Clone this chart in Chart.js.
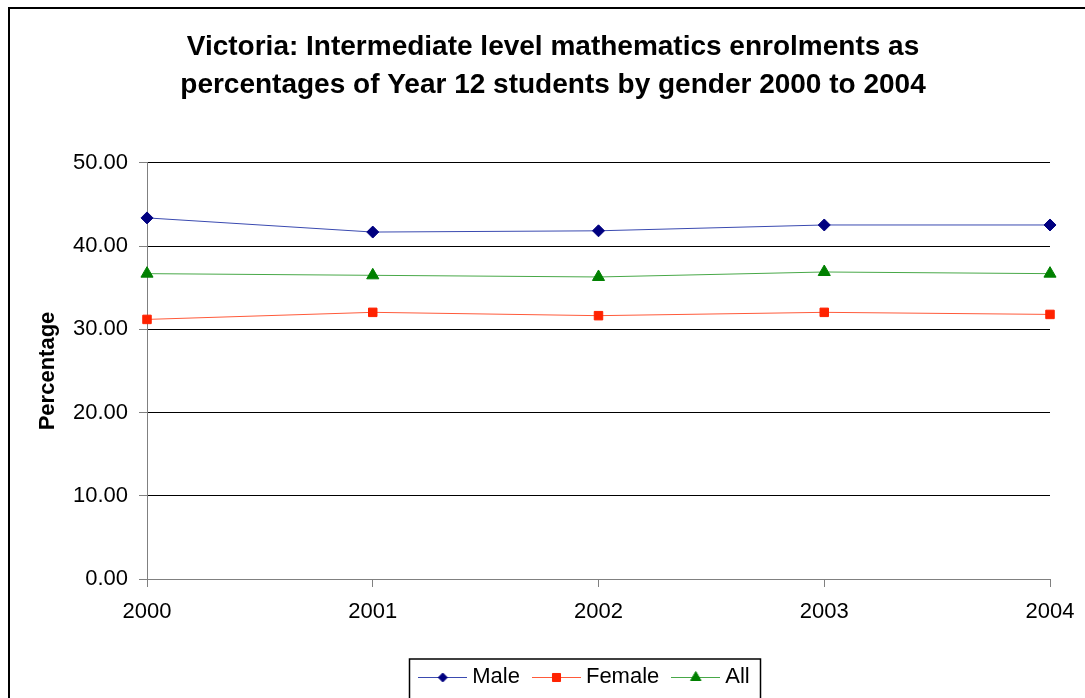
<!DOCTYPE html>
<html>
<head>
<meta charset="utf-8">
<script src="https://cdn.jsdelivr.net/npm/chart.js@4.4.1/dist/chart.umd.min.js"></script>
<style>
  html, body { margin: 0; padding: 0; background: #fff; }
  #wrap { width: 1085px; height: 698px; position: relative; }
</style>
</head>
<body>
<div id="wrap"><canvas id="c"></canvas></div>
<script>
// Year 12 intermediate mathematics enrolments (% of students), Victoria
const years = ['2000', '2001', '2002', '2003', '2004'];
const male = [43.40, 41.70, 41.85, 42.55, 42.55];
const female = [31.20, 32.05, 31.65, 32.05, 31.80];
const allStudents = [36.70, 36.50, 36.30, 36.90, 36.70];
const seriesNames = ['Male', 'Female', 'All'];
const yTickValues = [0, 10, 20, 30, 40, 50];

const FONT = "'Liberation Sans', Arial, sans-serif";
const ICON_W = 49;      // drawn width of a legend swatch
const ICON_OVERHANG = 6; // swatch spills this far past the legend box on each side

// Legend swatch: short line with the series marker in the middle
function legendIcon(lineColor, markerColor, style, radius) {
  const cv = document.createElement('canvas');
  cv.width = ICON_W; cv.height = 16;
  const ctx = cv.getContext('2d');
  ctx.strokeStyle = lineColor;
  ctx.lineWidth = 1;
  ctx.beginPath();
  ctx.moveTo(0, 8.5); ctx.lineTo(ICON_W, 8.5);
  ctx.stroke();
  ctx.fillStyle = markerColor;
  ctx.strokeStyle = markerColor;
  Chart.helpers.drawPoint(ctx, { pointStyle: style, radius: radius, borderWidth: 1 }, ICON_W / 2, 8.5);
  return cv;
}

const styles = [
  { line: '#3a4ab0', marker: '#000080', point: 'rectRot', r: 6, lr: 4.5 },
  { line: '#ff5a3a', marker: '#ff2200', point: 'rect', r: 6, lr: 5.7 },
  { line: '#48a848', marker: '#008000', point: 'triangle', r: 7, lr: 6 }
];
const values = [male, female, allStudents];

const datasets = seriesNames.map((name, i) => ({
  label: name,
  data: values[i],
  borderColor: styles[i].line,
  backgroundColor: styles[i].marker,
  borderWidth: 1,
  pointStyle: styles[i].point,
  pointRadius: styles[i].r,
  pointHoverRadius: styles[i].r,
  pointBackgroundColor: styles[i].marker,
  pointBorderColor: styles[i].marker,
  pointBorderWidth: 1,
  tension: 0
}));

// Title and legend sit centred on the full-width frame rather than the plot
const placementPlugin = {
  id: 'placement',
  afterLayout(chart) {
    const t = chart.titleBlock;
    if (t) { t.left = 56; t.right = 1050; }
    const lg = chart.legend;
    if (lg) { lg.left = 122; lg.right = 1052; }
  }
};

// Frame around the whole chart and around the legend
const framePlugin = {
  id: 'frames',
  afterDraw(chart) {
    const ctx = chart.ctx;
    ctx.save();
    ctx.strokeStyle = '#000';
    ctx.lineWidth = 2;
    ctx.strokeRect(9, 8, 3000, 3000);
    const boxes = chart.legend.legendHitBoxes;
    if (boxes && boxes.length) {
      const l = Math.min(...boxes.map(b => b.left)) - ICON_OVERHANG - 9;
      const r = Math.max(...boxes.map(b => b.left + b.width)) + 11;
      ctx.lineWidth = 1.5;
      ctx.strokeRect(Math.round(l) + 0.5, chart.legend.top + 11, Math.round(r - l), 100);
    }
    ctx.restore();
  }
};

new Chart(document.getElementById('c'), {
  type: 'line',
  data: { labels: years, datasets: datasets },
  options: {
    responsive: true,
    maintainAspectRatio: false,
    animation: false,
    layout: { padding: 0 },
    plugins: {
      tooltip: { enabled: false },
      title: {
        display: true,
        text: ['Victoria: Intermediate level mathematics enrolments as',
               'percentages of Year 12 students by gender 2000 to 2004'],
        color: '#000',
        font: { family: FONT, size: 28, weight: 'bold', lineHeight: 1.357 },
        padding: { top: 28, bottom: 59 }
      },
      legend: {
        position: 'bottom',
        labels: {
          color: '#000',
          font: { family: FONT, size: 22 },
          usePointStyle: true,
          pointStyleWidth: ICON_W - 2 * ICON_OVERHANG,
          boxHeight: 16,
          padding: 18,
          generateLabels(chart) {
            return chart.data.datasets.map((ds, i) => ({
              text: ds.label,
              pointStyle: legendIcon(styles[i].line, styles[i].marker, styles[i].point, styles[i].lr),
              fillStyle: styles[i].marker,
              strokeStyle: styles[i].marker,
              lineWidth: 0,
              hidden: false,
              datasetIndex: i
            }));
          }
        }
      }
    },
    scales: {
      x: {
        type: 'category',
        offset: false,
        grid: { display: true, drawOnChartArea: false, drawTicks: true, tickLength: 8, color: '#808080' },
        border: { display: true, color: '#808080', width: 1 },
        ticks: { color: '#000', font: { family: FONT, size: 22 }, padding: 12, maxRotation: 0 },
        afterFit(scale) {
          scale.height = 69;
          scale.paddingLeft = 0;
          scale.paddingRight = 35;
        }
      },
      y: {
        min: 0, max: 50,
        afterBuildTicks(scale) { scale.ticks = yTickValues.map(v => ({ value: v })); },
        grid: { color: '#000', tickColor: '#808080', tickLength: 8, lineWidth: 1 },
        border: { display: true, color: '#808080', width: 1 },
        ticks: {
          color: '#000',
          font: { family: FONT, size: 22 },
          padding: 11,
          callback: v => Number(v).toFixed(2)
        },
        title: {
          display: true,
          text: 'Percentage',
          color: '#000',
          font: { family: FONT, size: 22, weight: 'bold' },
          padding: { top: 35, bottom: 0 }
        },
        afterFit(scale) { scale.width = 147; }
      }
    }
  },
  plugins: [placementPlugin, framePlugin]
});
</script>
</body>
</html>
